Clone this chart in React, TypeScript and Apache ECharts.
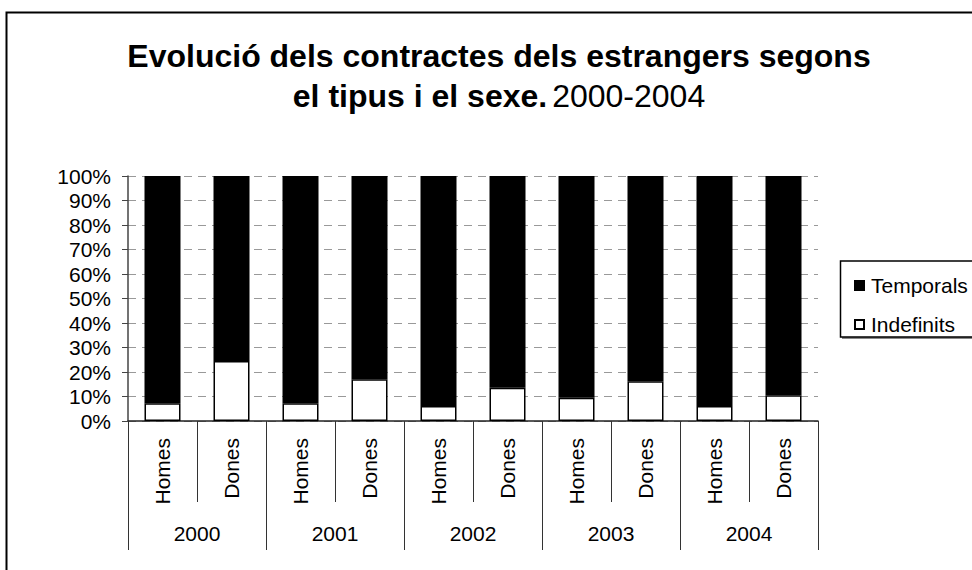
import React, { useEffect, useRef } from 'react';
import * as echarts from 'echarts';

const categories = ['Homes', 'Dones', 'Homes', 'Dones', 'Homes', 'Dones', 'Homes', 'Dones', 'Homes', 'Dones'];
const years = ['2000', '2001', '2002', '2003', '2004'];
const indefinits = [7.2, 24.5, 7.2, 17.0, 6.1, 13.6, 9.5, 16.2, 6.1, 10.5];
const temporals = [92.8, 75.5, 92.8, 83.0, 93.9, 86.4, 90.5, 83.8, 93.9, 89.5];
const seriesNames = ['Temporals', 'Indefinits'];

const FONT = "'Liberation Sans', Arial, sans-serif";

export default function App() {
  const ref = useRef<HTMLDivElement>(null);
  useEffect(() => {
    if (!ref.current) return;
    const chart = echarts.init(ref.current, undefined, { renderer: 'svg' });
    chart.setOption({
      animation: false,
      backgroundColor: '#fff',
      textStyle: { fontFamily: FONT, color: '#000' },
      title: {
        text: '{b|Evolució dels contractes dels estrangers segons}\n{b|el tipus i el sexe.} {n|2000-2004}',
        left: 494,
        top: 31,
        textAlign: 'center',
        textStyle: {
          rich: {
            b: { fontFamily: FONT, fontSize: 32, fontWeight: 'bold', color: '#000', lineHeight: 40 },
            n: { fontFamily: FONT, fontSize: 32, fontWeight: 'normal', color: '#000', lineHeight: 40 },
          },
        },
      },
      legend: {
        data: [
          { name: seriesNames[0] },
          { name: seriesNames[1] },
        ],
        orient: 'vertical',
        left: 849,
        top: 270,
        itemWidth: 9,
        itemHeight: 9,
        itemGap: 18,
        icon: 'rect',
        textStyle: { fontFamily: FONT, fontSize: 21, color: '#000', padding: [0, 0, 0, 2] },
      },
      grid: { left: 128, right: 154, top: 176, bottom: 149, containLabel: false },
      xAxis: [
        {
          type: 'category',
          data: categories,
          position: 'bottom',
          axisLine: { show: true, lineStyle: { color: '#222', width: 1.5 } },
          axisTick: { show: true, interval: 0, length: 81, lineStyle: { color: '#333', width: 1 } },
          axisLabel: { interval: 0, rotate: 90, margin: 17, fontSize: 21, fontFamily: FONT, color: '#000' },
          splitLine: { show: false },
        },
        {
          type: 'category',
          data: years,
          position: 'bottom',
          axisLine: { show: false },
          axisTick: { show: true, interval: 0, length: 129, lineStyle: { color: '#333', width: 1 } },
          axisLabel: { interval: 0, margin: 102, fontSize: 21, fontFamily: FONT, color: '#000' },
          splitLine: { show: false },
        },
      ],
      yAxis: {
        type: 'value',
        min: 0,
        max: 100,
        interval: 10,
        axisLine: { show: true, lineStyle: { color: '#444', width: 1.5 } },
        axisTick: { show: true, length: 6, lineStyle: { color: '#444' } },
        axisLabel: { formatter: '{value}%', margin: 17, fontSize: 21, fontFamily: FONT, color: '#000' },
        splitLine: { show: true, lineStyle: { color: '#999', width: 1, type: [8, 6] } },
      },
      graphic: [
        {
          type: 'rect',
          shape: { x: 6.5, y: 12.5, width: 1000, height: 600 },
          style: { fill: 'none', stroke: '#000', lineWidth: 2 },
          silent: true,
        },
        {
          type: 'rect',
          shape: { x: 842, y: 263, width: 140, height: 76 },
          style: { fill: '#888', stroke: 'none' },
          silent: true,
          z: -1,
        },
        {
          type: 'rect',
          shape: { x: 840.5, y: 261, width: 140, height: 76 },
          style: { fill: '#fff', stroke: '#000', lineWidth: 1.5 },
          silent: true,
          z: 0,
        },
      ],
      series: [
        {
          name: seriesNames[1],
          type: 'bar',
          stack: 'total',
          xAxisIndex: 0,
          barWidth: 36,
          data: indefinits,
          itemStyle: { color: '#fff', borderColor: '#000', borderWidth: 1.5 },
        },
        {
          name: seriesNames[0],
          type: 'bar',
          stack: 'total',
          xAxisIndex: 0,
          barWidth: 36,
          data: temporals,
          itemStyle: { color: '#000', borderColor: '#000', borderWidth: 1.5 },
        },
      ],
    });
    return () => chart.dispose();
  }, []);
  return <div ref={ref} style={{ position: 'absolute', left: 0, top: 0, width: 972, height: 570 }} />;
}
